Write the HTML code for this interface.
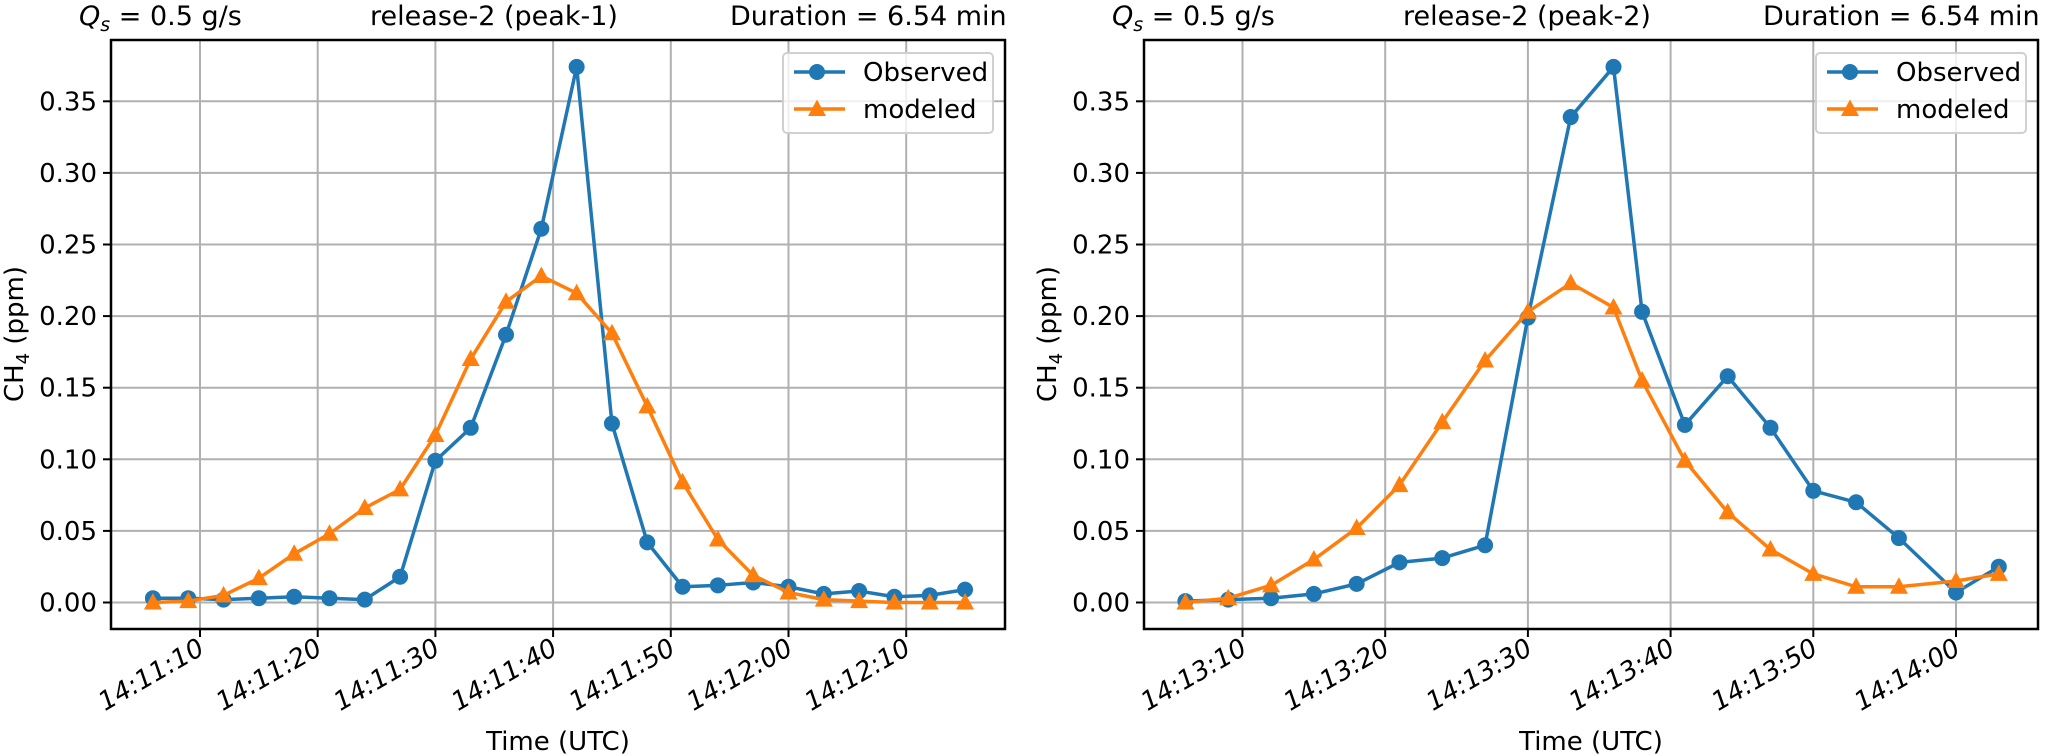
<!DOCTYPE html>
<html><head><meta charset="utf-8"><style>
html,body{margin:0;padding:0;background:#fff;}
svg{display:block;font-family:"DejaVu Sans","Liberation Sans",sans-serif;}
</style></head><body>
<svg id="fig" width="2067" height="756" viewBox="0 0 2067 756" xmlns="http://www.w3.org/2000/svg"></svg>
<script>
// ---- data ----
const leftTimesSec = [6,9,12,15,18,21,24,27,30,33,36,39,42,45,48,51,54,57,60,63,66,69,72,75]; // seconds after 14:11:00
const leftObserved = [0.003,0.003,0.002,0.003,0.004,0.003,0.002,0.018,0.099,0.122,0.187,0.261,0.374,0.125,0.042,0.011,0.012,0.014,0.011,0.006,0.008,0.004,0.005,0.009];
const leftModeled = [0.000,0.001,0.005,0.017,0.034,0.048,0.066,0.079,0.117,0.170,0.210,0.228,0.216,0.188,0.137,0.084,0.044,0.019,0.007,0.002,0.001,0.000,0.000,0.000];
const leftTickSec = [10,20,30,40,50,60,70];
const leftTickLabels = ["14:11:10","14:11:20","14:11:30","14:11:40","14:11:50","14:12:00","14:12:10"];

const rightTimesSec = [6,9,12,15,18,21,24,27,30,33,36,38,41,44,47,50,53,56,60,63]; // seconds after 14:13:00
const rightObserved = [0.001,0.002,0.003,0.006,0.013,0.028,0.031,0.040,0.199,0.339,0.374,0.203,0.124,0.158,0.122,0.078,0.070,0.045,0.007,0.025];
const rightModeled = [0.000,0.003,0.012,0.030,0.052,0.082,0.126,0.169,0.203,0.223,0.206,0.155,0.099,0.063,0.037,0.020,0.011,0.011,0.015,0.020];
const rightTickSec = [10,20,30,40,50,60];
const rightTickLabels = ["14:13:10","14:13:20","14:13:30","14:13:40","14:13:50","14:14:00"];

const yTicks = [0,0.05,0.10,0.15,0.20,0.25,0.30,0.35];
const yTickLabels = ["0.00","0.05","0.10","0.15","0.20","0.25","0.30","0.35"];

const NS = "http://www.w3.org/2000/svg";
const svg = document.getElementById("fig");
function mk(tag, attrs, parent){
  const e = document.createElementNS(NS, tag);
  for (const k in attrs) e.setAttribute(k, attrs[k]);
  (parent||svg).appendChild(e);
  return e;
}
const BLUE="#1f77b4", ORANGE="#ff7f0e";

function panel(cfg){
  const L=cfg.left, R=cfg.left+894, T=40, B=629;
  const g = mk("g",{});
  
  
  const y = v => 602.5 - v/0.05*71.6;
  const x = s => cfg.x0 + (s - cfg.s0)*cfg.pps;

  cfg.ticks.forEach((s,i)=>{
    const gl = mk("line",{x1:x(s),x2:x(s),y1:T,y2:B,stroke:"#b0b0b0","stroke-width":2},g);
    
    
  });
  yTicks.forEach(v=>{
    const gl = mk("line",{x1:L,x2:R,y1:y(v),y2:y(v),stroke:"#b0b0b0","stroke-width":2},g);
    
    
  });

  function series(times, vals, color, marker, nm){
    const pts = times.map((s,i)=>x(s)+","+y(vals[i])).join(" ");
    const pl = mk("polyline",{points:pts,fill:"none",stroke:color,"stroke-width":3.5,"stroke-linejoin":"round"},g);
    
    
    times.forEach((s,i)=>{
      const cx=x(s), cy=y(vals[i]);
      let m;
      if(marker==="o") m = mk("circle",{cx:cx,cy:cy,r:8,fill:color},g);
      else m = mk("polygon",{points:`${cx},${cy-9.5} ${cx-9},${cy+7} ${cx+9},${cy+7}`,fill:color},g);
      
      
    });
  }
  series(cfg.times, cfg.obs, BLUE, "o", "observed");
  series(cfg.times, cfg.mod, ORANGE, "^", "modeled");

  const fr = mk("rect",{x:L,y:T,width:R-L,height:B-T,fill:"none",stroke:"#000","stroke-width":2.5},g);
  
  

  yTicks.forEach((v,i)=>{
    mk("line",{x1:L-8,x2:L,y1:y(v),y2:y(v),stroke:"#000","stroke-width":2},g);
    const t = mk("text",{x:L-14,y:y(v)+9,"text-anchor":"end","font-size":26,fill:"#000"},g);
    t.textContent = yTickLabels[i];
    
    
  });
  cfg.ticks.forEach((s,i)=>{
    const px=x(s);
    mk("line",{x1:px,x2:px,y1:B,y2:B+8,stroke:"#000","stroke-width":2},g);
    const t = mk("text",{x:0,y:0,"text-anchor":"end","font-size":26,"font-style":"italic",fill:"#000",transform:`translate(${px+6},${B+24}) rotate(-30)`},g);
    t.textContent = cfg.tickLabels[i];
    
    
  });

  const xl = mk("text",{x:(L+R)/2,y:750,"text-anchor":"middle","font-size":26,fill:"#000"},g);
  xl.textContent="Time (UTC)";
  
  
  const yl = mk("text",{x:0,y:0,"text-anchor":"middle","font-size":26,fill:"#000",transform:`translate(${L-88},334) rotate(-90)`},g);
  yl.innerHTML='CH<tspan font-size="18" dy="6">4</tspan><tspan dy="-6"> (ppm)</tspan>';
  
  

  const off = L-111;
  const t1 = mk("text",{x:79+off,y:25,"font-size":27,fill:"#000"},g);
  t1.innerHTML='<tspan font-style="italic">Q</tspan><tspan font-style="italic" font-size="19" dy="6">s</tspan><tspan dy="-6"> = 0.5 g/s</tspan>';
  
  
  const t2 = mk("text",{x:494+off,y:25,"text-anchor":"middle","font-size":27,fill:"#000"},g);
  t2.textContent = cfg.title;
  
  
  const t3 = mk("text",{x:730+off,y:25,"font-size":27,fill:"#000"},g);
  t3.textContent = "Duration = 6.54 min";
  
  

  const lg = mk("g",{},g);
  
  
  const lx = 783+off;
  mk("rect",{x:lx,y:53,width:210,height:80,rx:4,fill:"#fff","fill-opacity":0.8,stroke:"#d0d0d0","stroke-width":2},lg);
  mk("line",{x1:lx+11,x2:lx+62,y1:72,y2:72,stroke:BLUE,"stroke-width":3.5},lg);
  mk("circle",{cx:lx+34,cy:72,r:8,fill:BLUE},lg);
  const e1 = mk("text",{x:lx+80,y:81,"font-size":26,fill:"#000"},lg);
  e1.textContent="Observed";
  
  
  mk("line",{x1:lx+11,x2:lx+62,y1:109,y2:109,stroke:ORANGE,"stroke-width":3.5},lg);
  mk("polygon",{points:`${lx+34},${99.5} ${lx+25},${116} ${lx+43},${116}`,fill:ORANGE},lg);
  const e2 = mk("text",{x:lx+80,y:118,"font-size":26,fill:"#000"},lg);
  e2.textContent="modeled";
  
  
}

panel({name:"left-chart", left:111, x0:200, s0:10, pps:11.77, times:leftTimesSec, obs:leftObserved, mod:leftModeled, ticks:leftTickSec, tickLabels:leftTickLabels, title:"release-2 (peak-1)"});
panel({name:"right-chart", left:1144, x0:1242.5, s0:10, pps:14.27, times:rightTimesSec, obs:rightObserved, mod:rightModeled, ticks:rightTickSec, tickLabels:rightTickLabels, title:"release-2 (peak-2)"});
</script>
</body></html>
